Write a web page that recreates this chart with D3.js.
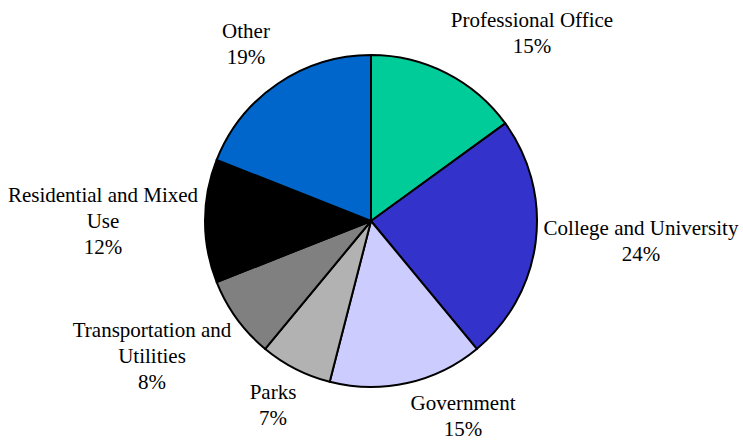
<!DOCTYPE html>
<html>
<head>
<meta charset="utf-8">
<script src="https://cdn.jsdelivr.net/npm/d3@7"></script>
<style>
  html, body { margin: 0; padding: 0; background: #fff; font-family: 'Liberation Serif', 'Times New Roman', serif; }
  svg { display: block; }
  text { font-family: 'Liberation Serif', 'Times New Roman', serif; font-size: 21px; }
</style>
</head>
<body>
<div id="chart"></div>
<script>
// Data (clockwise from 12 o'clock)
const categories = [
  'Professional Office',
  'College and University',
  'Government',
  'Parks',
  'Transportation and Utilities',
  'Residential and Mixed Use',
  'Other'
];
const shares = [15, 24, 15, 7, 8, 12, 19];
const colors = ['#00CC99', '#3333CC', '#CCCCFF', '#B2B2B2', '#808080', '#000000', '#0066CC'];

// Label text lines (how the reference wraps them)
const labelLines = [
  ['Professional Office'],
  ['College and University'],
  ['Government'],
  ['Parks'],
  ['Transportation and', 'Utilities'],
  ['Residential and Mixed', 'Use'],
  ['Other']
];

// Layout
const width = 743;
const height = 440;
const center = { x: 371, y: 221 };
const radius = 166;
const lineHeight = 26;
const fontFamily = 'Times New Roman';
// label anchor (centre x, first baseline y)
const labelPos = [
  [532, 27], [641, 235], [463, 410], [273, 399],
  [152, 337], [103, 202], [246, 38]
];

const svg = d3.select('#chart')
  .append('svg')
  .attr('width', width)
  .attr('height', height)
  .attr('font-family', fontFamily);

const pie = d3.pie().sort(null).value(d => d);
const arc = d3.arc().innerRadius(0).outerRadius(radius);

const g = svg.append('g')
  .attr('transform', `translate(${center.x},${center.y})`);

g.selectAll('path')
  .data(pie(shares))
  .enter()
  .append('path')
  .attr('d', arc)
  .attr('fill', (d, i) => colors[i])
  .attr('stroke', '#000')
  .attr('stroke-width', 2)
  .attr('stroke-linejoin', 'round');

// Labels: one text element per line, name lines then percentage
const labelRows = [];
categories.forEach((c, i) => {
  const [x, y] = labelPos[i];
  labelLines[i].concat([shares[i] + '%']).forEach((s, k) => {
    labelRows.push({ text: s, x: x, y: y + k * lineHeight });
  });
});

svg.selectAll('text.label')
  .data(labelRows)
  .enter()
  .append('text')
  .attr('class', 'label')
  .attr('x', d => d.x)
  .attr('y', d => d.y)
  .attr('text-anchor', 'middle')
  .attr('font-family', fontFamily)
  .style('font-family', d => `'${fontFamily}'`)
  .style('font-size', '21px')
  .style('fill', '#000')
  .text(d => d.text);
</script>
</body>
</html>
